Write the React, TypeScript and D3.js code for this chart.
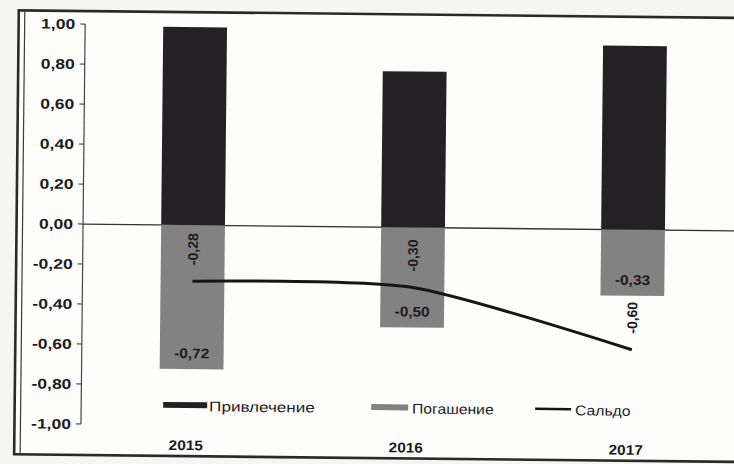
import React from "react";
import * as d3 from "d3";

const years = ["2015", "2016", "2017"];
const attractVals = [0.99, 0.78, 0.92];
const repayVals = [-0.72, -0.5, -0.33];
const saldoVals = [-0.28, -0.3, -0.6];
const yTicks = [1, 0.8, 0.6, 0.4, 0.2, 0, -0.2, -0.4, -0.6, -0.8, -1];
const legendLabels = ["Привлечение", "Погашение", "Сальдо"];

const W = 734;
const H = 464;
const FONT = "'Liberation Sans', Arial, sans-serif";
const DARK = "#242124";
const GREY = "#828282";
const INK = "#1c1c1c";

const fmt = (v: number) => d3.format(".2f")(v).replace(".", ",").replace("−", "-");

export default function App() {
  const y = d3.scaleLinear().domain([-1, 1]).range([427, 27]);
  const x = d3
    .scaleBand<string>()
    .domain(years)
    .range([83, 743])
    .paddingInner(0.71)
    .paddingOuter(0.355);
  const cx = (yr: string) => (x(yr) as number) + x.bandwidth() / 2;

  const line = d3
    .line<number>()
    .x((_, i) => cx(years[i]))
    .y((d) => y(d))
    .curve(d3.curveCardinal.tension(0.3));

  const stretch = (tx: number, ty: number, sx = 1.25) =>
    `translate(${tx},${ty}) scale(${sx},1)`;

  return (
    <svg
      width={W}
      height={H}
      style={{ position: "absolute", left: 0, top: 0 }}
      fontFamily={FONT}
    >
      <rect x={0} y={0} width={W} height={H} fill="#f5f5f3" />
      <g transform="rotate(0.6 367 232)">
        {/* frame */}
        <rect x={16.5} y={14} width={760} height={444} fill="#fdfdfc" stroke="#2a2a2a" strokeWidth={2.6} />
        <line x1={22.5} x2={22.5} y1={14} y2={458} stroke="#3a3a3a" strokeWidth={1.2} />

        {/* zero line */}
        <line x1={83} x2={780} y1={y(0)} y2={y(0)} stroke="#333" strokeWidth={1.3} />

        {/* bars */}
        {years.map((yr, i) => (
          <g key={yr}>
            <rect
              x={x(yr)}
              y={y(attractVals[i])}
              width={x.bandwidth()}
              height={y(0) - y(attractVals[i])}
              fill={DARK}
            />
            <rect
              x={x(yr)}
              y={y(0)}
              width={x.bandwidth()}
              height={y(repayVals[i]) - y(0)}
              fill={GREY}
            />
          </g>
        ))}

        {/* y axis */}
        <line x1={83} x2={83} y1={y(1)} y2={y(-1)} stroke="#444" strokeWidth={1.2} />
        {yTicks.map((t) => (
          <g key={t}>
            <line x1={78} x2={83} y1={y(t)} y2={y(t)} stroke="#444" strokeWidth={1.2} />
            <text
              transform={stretch(73, y(t) + 5)}
              textAnchor="end"
              fontSize={14}
              fontWeight="bold"
              fill={INK}
            >
              {fmt(t)}
            </text>
          </g>
        ))}

        {/* saldo line */}
        <path d={line(saldoVals) || ""} fill="none" stroke="#151515" strokeWidth={3} />

        {/* repay labels */}
        {years.map((yr, i) => (
          <text
            key={"r" + yr}
            transform={stretch(cx(yr), y(repayVals[i]) - 11, 1.1)}
            textAnchor="middle"
            fontSize={14}
            fontWeight="bold"
            fill={INK}
          >
            {fmt(repayVals[i])}
          </text>
        ))}

        {/* saldo labels, rotated */}
        {years.map((yr, i) => (
          <text
            key={"s" + yr}
            transform={`translate(${cx(yr) + 5},${y(saldoVals[i]) - 32}) rotate(-90)`}
            textAnchor="middle"
            fontSize={14}
            fontWeight="bold"
            fill={INK}
          >
            {fmt(saldoVals[i])}
          </text>
        ))}

        {/* legend */}
        <rect x={165} y={404} width={44} height={6} fill={DARK} />
        <text transform={stretch(211, 413, 1.22)} fontSize={14} fill={INK}>
          {legendLabels[0]}
        </text>
        <rect x={373} y={404} width={37} height={6} fill={GREY} />
        <text transform={stretch(414, 413, 1.12)} fontSize={14} fill={INK}>
          {legendLabels[1]}
        </text>
        <line x1={537} x2={573} y1={407} y2={407} stroke="#151515" strokeWidth={2.5} />
        <text transform={stretch(577, 413, 1.12)} fontSize={14} fill={INK}>
          {legendLabels[2]}
        </text>

        {/* year labels */}
        {years.map((yr) => (
          <text
            key={"y" + yr}
            transform={stretch(cx(yr) - 5, 452, 1.1)}
            textAnchor="middle"
            fontSize={14}
            fontWeight="bold"
            fill={INK}
          >
            {yr}
          </text>
        ))}
      </g>
    </svg>
  );
}
